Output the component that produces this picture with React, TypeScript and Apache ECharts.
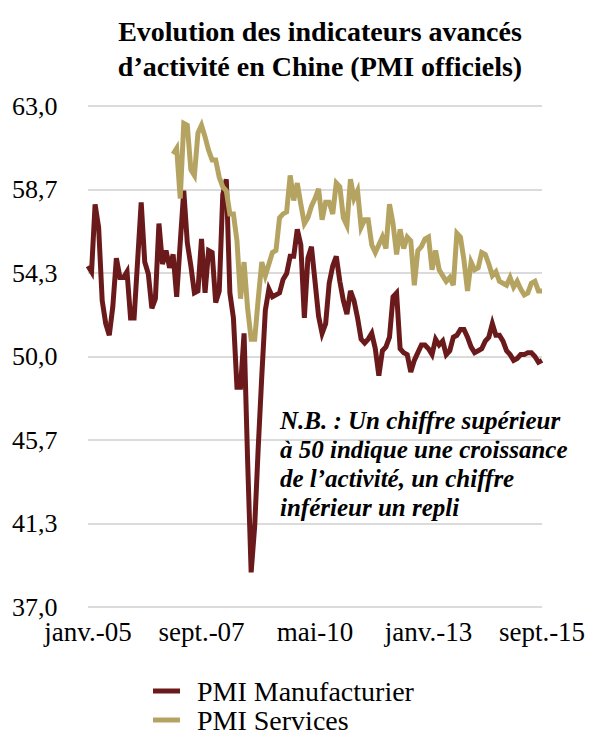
import React, { useEffect, useRef } from "react";
import * as echarts from "echarts";

const MONTHS = ["janv.", "févr.", "mars", "avr.", "mai", "juin", "juil.", "août", "sept.", "oct.", "nov.", "déc."];
const FIRST_YEAR = 2005;
const LAST_YEAR = 2015;
const LAST_MONTH = 8; // sept.

const categories: string[] = [];
for (let y = FIRST_YEAR; y <= LAST_YEAR; y++) {
  for (let m = 0; m < 12; m++) {
    if (y === LAST_YEAR && m > LAST_MONTH) break;
    categories.push(MONTHS[m] + "-" + String(y).slice(2));
  }
}

const yTickLabels = ["37,0", "41,3", "45,7", "50,0", "54,3", "58,7", "63,0"];

const pmiManufacturier = [
  54.7, 54.4, 57.9, 56.7, 52.9, 51.7, 51.1, 52.6, 55.1, 54.1, 54.1, 54.4,
  52.0, 52.0, 55.0, 58.0, 54.9, 54.3, 52.5, 53.0, 56.9, 54.8, 55.5, 54.6,
  55.3, 53.1, 55.9, 58.6, 55.9, 54.7, 53.3, 53.4, 56.1, 53.3, 55.5, 55.4,
  52.8, 53.4, 58.4, 59.2, 53.3, 52.0, 48.4, 48.4, 51.2, 44.6, 38.8, 41.2,
  45.3, 49.0, 52.4, 53.5, 53.1, 53.2, 53.3, 54.0, 54.3, 55.2, 55.2, 56.6,
  55.8, 52.0, 55.1, 55.7, 53.9, 52.1, 51.2, 51.7, 53.8, 54.7, 55.2, 53.9,
  52.9, 52.2, 53.4, 52.9, 52.0, 50.9, 50.7, 50.9, 51.2, 50.4, 49.0, 50.3,
  50.5, 51.0, 53.1, 53.3, 50.4, 50.2, 50.1, 49.2, 49.8, 50.2, 50.6, 50.6,
  50.4, 50.1, 50.9, 50.6, 50.8, 50.1, 50.3, 51.0, 51.1, 51.4, 51.4, 51.0,
  50.5, 50.2, 50.3, 50.4, 50.8, 51.0, 51.7, 51.1, 51.1, 50.8, 50.3, 50.1,
  49.8, 49.9, 50.1, 50.1, 50.2, 50.2, 50.0, 49.7, 49.8,
];

const pmiServices = [
  null, null, null, null, null, null, null, null, null, null, null, null,
  null, null, null, null, null, null, null, null, null, null, null, null,
  60.5, 60.8, 58.2, 62.1, 62.0, 59.7, 59.4, 61.6, 62.0, 61.4, 60.7, 60.2,
  60.2, 59.3, 58.8, 58.6, 57.4, 57.4, 56.0, 53.0, 54.9, 52.5, 50.9, 50.9,
  53.0, 54.9, 54.2, 54.8, 55.4, 55.5, 57.2, 57.4, 57.5, 59.4, 58.1, 59.0,
  57.9, 56.9, 57.2, 57.8, 58.2, 58.7, 57.1, 58.0, 58.0, 57.4, 59.0, 58.8,
  57.2, 56.8, 59.2, 58.2, 58.6, 56.7, 57.1, 57.1, 55.8, 55.4, 55.8, 56.2,
  55.6, 57.9, 56.9, 55.3, 56.6, 55.6, 56.2, 56.0, 53.7, 55.5, 55.7, 56.1,
  56.2, 54.5, 55.5, 54.5, 54.2, 53.9, 54.1, 53.7, 56.4, 56.2, 55.0, 53.4,
  54.9, 54.5, 54.6, 55.4, 55.3, 54.8, 54.2, 54.4, 53.9, 53.8, 53.7, 54.1,
  53.6, 53.9, 53.5, 53.2, 53.3, 53.8, 53.9, 53.4, 53.4,
];

const SERIES_NAMES = ["PMI Manufacturier", "PMI Services"];
const FONT = "'Liberation Serif', 'Times New Roman', serif";

const legendItem = (name: string, top: number) => ({
  orient: "horizontal",
  left: 153,
  top,
  padding: 0,
  itemWidth: 27,
  itemHeight: 5,
  icon: "rect",
  textStyle: {
    fontFamily: FONT,
    fontSize: 28,
    lineHeight: 28,
    color: "#000000",
    padding: [0, 0, 0, 12],
  },
  data: [name],
});

export default function App() {
  const ref = useRef<HTMLDivElement>(null);

  useEffect(() => {
    if (!ref.current) return;
    const chart = echarts.init(ref.current, undefined, { renderer: "svg" });
    chart.setOption({
      animation: false,
      backgroundColor: "#ffffff",
      title: {
        text: "Evolution des indicateurs avancés\nd’activité en Chine (PMI officiels)",
        left: 315,
        top: 9,
        textAlign: "center",
        textStyle: {
          fontFamily: FONT,
          fontWeight: "bold",
          fontSize: 28,
          lineHeight: 35,
          color: "#000000",
        },
      },
      grid: { left: 88, right: 48, top: 106, bottom: 127 },
      legend: [legendItem(SERIES_NAMES[0], 677), legendItem(SERIES_NAMES[1], 706)],
      xAxis: {
        type: "category",
        data: categories,
        boundaryGap: false,
        axisLine: { show: false },
        axisTick: { show: false },
        splitLine: { show: false },
        axisLabel: {
          interval: 31,
          margin: 11,
          fontFamily: FONT,
          fontSize: 27,
          color: "#000000",
          showMaxLabel: true,
        },
      },
      yAxis: [
        {
          type: "value",
          min: 37,
          max: 63,
          axisLine: { show: false },
          axisTick: { show: false },
          axisLabel: { show: false },
          splitLine: { show: false },
        },
        {
          type: "value",
          position: "left",
          min: 0,
          max: 6,
          interval: 1,
          axisLine: { show: false },
          axisTick: { show: false },
          axisLabel: {
            align: "left",
            margin: 76,
            fontFamily: FONT,
            fontSize: 26,
            color: "#000000",
            formatter: (v: number) => yTickLabels[Math.round(v)] ?? "",
          },
          splitLine: { show: true, lineStyle: { color: "#cfcfcf", width: 1.5 } },
        },
      ],
      graphic: [
        {
          type: "text",
          left: 280,
          top: 406,
          style: {
            text: "N.B. : Un chiffre supérieur\nà 50 indique une croissance\nde l’activité, un chiffre\ninférieur un repli",
            fontFamily: FONT,
            fontStyle: "italic",
            fontWeight: "bold",
            fontSize: 25,
            lineHeight: 29,
            fill: "#000000",
          },
        },
      ],
      series: [
        {
          name: SERIES_NAMES[0],
          type: "line",
          yAxisIndex: 0,
          data: pmiManufacturier,
          showSymbol: false,
          symbol: "none",
          lineStyle: { color: "#6B1A1C", width: 5, join: "miter" },
          itemStyle: { color: "#6B1A1C" },
        },
        {
          name: SERIES_NAMES[1],
          type: "line",
          yAxisIndex: 0,
          data: pmiServices,
          showSymbol: false,
          symbol: "none",
          lineStyle: { color: "#B5A461", width: 5, join: "miter" },
          itemStyle: { color: "#B5A461" },
        },
      ],
    });
    return () => chart.dispose();
  }, []);

  return (
    <div
      ref={ref}
      style={{ position: "fixed", left: 0, top: 0, width: 590, height: 734, background: "#fff" }}
    />
  );
}
